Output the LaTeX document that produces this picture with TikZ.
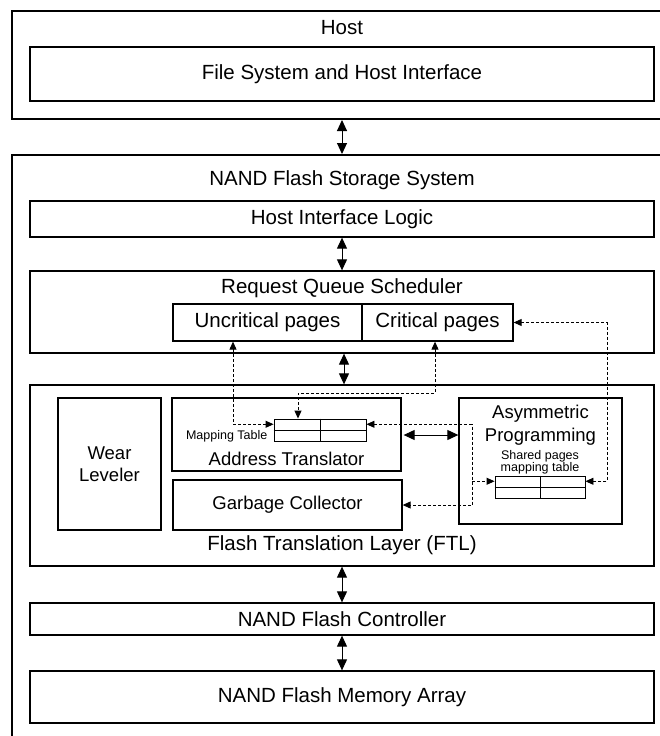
\documentclass[tikz,border=0pt]{standalone}
\usepackage{fontspec}
\setmainfont{Liberation Sans}
\usetikzlibrary{arrows.meta,calc}
\begin{document}
\begin{tikzpicture}[x=1pt,y=-1pt,
  outer/.style={draw, line width=2pt, inner sep=0pt},
  blk/.style={draw, line width=1.3pt, inner sep=0pt, align=center},
  tbl/.style={draw, line width=0.9pt, inner sep=0pt},
  big/.style={font=\fontsize{20.5}{24}\selectfont},
  mid/.style={font=\fontsize{18.5}{22}\selectfont},
  small/.style={font=\fontsize{12.5}{12}\selectfont},
  dbl/.style={line width=1pt, {Triangle[length=11pt,width=10pt]}-{Triangle[length=11pt,width=10pt]}},
  dsh/.style={line width=0.9pt, dash pattern=on 3pt off 2pt, {Triangle[length=8pt,width=7pt]}-{Triangle[length=8pt,width=7pt]}},
  dshe/.style={line width=0.9pt, dash pattern=on 3pt off 2pt, -{Triangle[length=8pt,width=7pt]}},
  lbl/.style={inner sep=0pt, align=center}
]
\useasboundingbox (0,0) rectangle (660,736);
\clip (0,0) rectangle (660,736);
\fill[white] (0,0) rectangle (660,736);

% Host
\node[outer, minimum width=668pt, minimum height=108pt] (host) at (346,65) {};
\node[lbl, big] (hostlbl) at (342,28) {Host};
\node[blk, big, minimum width=624pt, minimum height=54pt] (fs) at (342,74) {File System and Host Interface};

% Storage system
\node[outer, minimum width=668pt, minimum height=605pt] (stor) at (346,457.5) {};
\node[lbl, big] (storlbl) at (342,180) {NAND Flash Storage System};
\node[blk, big, minimum width=624pt, minimum height=36pt] (hil) at (342,219) {Host Interface Logic};

% Request queue scheduler
\node[blk, minimum width=624pt, minimum height=82pt] (rqs) at (342,312) {};
\node[lbl, big] (rqslbl) at (342,288) {Request Queue Scheduler};
\node[blk, big, minimum width=189pt, minimum height=37pt] (unc) at (267.5,322.5) {Uncritical pages};
\node[blk, big, minimum width=151pt, minimum height=37pt] (crit) at (437.5,322.5) {Critical pages};

% FTL
\node[blk, minimum width=624pt, minimum height=181pt] (ftl) at (342,475.5) {};
\node[lbl, big] (ftllbl) at (342,545) {Flash Translation Layer (FTL)};
\node[blk, mid, minimum width=103pt, minimum height=132pt] (wl) at (109.5,464) {Wear\\[0pt]Leveler};
\node[blk, minimum width=229pt, minimum height=73pt] (at) at (286.5,434.5) {};
\node[lbl, mid] (atlbl) at (286.5,459) {Address Translator};
\node[tbl, minimum width=92pt, minimum height=22pt] (mt) at (320,430) {};
\draw[line width=0.9pt] (mt.north) -- (mt.south) (mt.west) -- (mt.east);
\node[lbl, small, anchor=east] (mtlbl) at ([xshift=-6pt,yshift=-6pt]mt.west) {Mapping Table};
\node[blk, mid, minimum width=229pt, minimum height=50pt] (gc) at (287.5,505) {Garbage Collector};
\node[blk, minimum width=163pt, minimum height=126pt] (ap) at (540.5,461) {};
\node[lbl, font=\fontsize{18.5}{23}\selectfont] (aplbl) at (540.5,425.5) {Asymmetric\\Programming};
\node[lbl, small] (shlbl) at (540,462) {Shared pages\\mapping table};
\node[tbl, minimum width=90pt, minimum height=22pt] (st) at (540,487) {};
\draw[line width=0.9pt] (st.north) -- (st.south) (st.west) -- (st.east);

% Controller and array
\node[blk, big, minimum width=624pt, minimum height=32pt] (nfc) at (342,619) {NAND Flash Controller};
\node[blk, big, minimum width=624pt, minimum height=52pt] (nma) at (342,697) {NAND Flash Memory Array};

% Solid double arrows
\draw[dbl] (host.south -| fs.center) -- (stor.north -| fs.center);
\draw[dbl] (hil.south) -- (rqs.north);
\draw[dbl] ([xshift=2pt]rqs.south) -- ([xshift=2pt]ftl.north);
\draw[dbl] (ftl.south) -- (nfc.north);
\draw[dbl] (nfc.south) -- (nma.north);
\draw[dbl] (at.east |- mt.east) ++(2,5) coordinate (a1) (a1) -- (a1 -| ap.west);

% Dashed connectors
\coordinate (lj) at (472,0);
\coordinate (rj) at (607,0);
\draw[dsh] ([xshift=-34.5pt]unc.south) |- ($(mt.west)!0.5!(mt.north west)$);
\draw[dsh] ([xshift=-2.5pt]crit.south) -- ++(0,52) -| ([xshift=-22pt]mt.north);
\draw[dsh] (crit.east) -| (rj |- {$(st.east)!0.5!(st.north east)$}) -- ($(st.east)!0.5!(st.north east)$);
\draw[dsh] ($(mt.east)!0.5!(mt.north east)$) -| (lj |- gc.east) -- (gc.east);
\draw[dshe] (lj |- {$(st.west)!0.5!(st.north west)$}) -- ($(st.west)!0.5!(st.north west)$);
\end{tikzpicture}
\end{document}
